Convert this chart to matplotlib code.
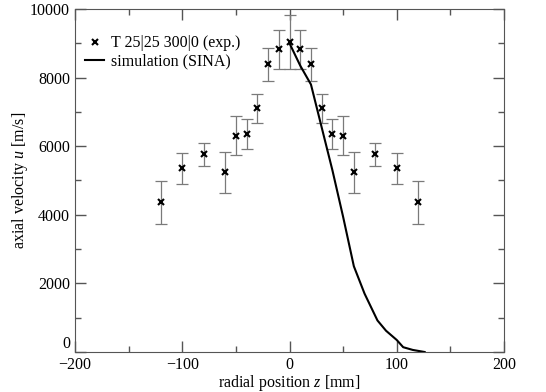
import numpy as np
import matplotlib
matplotlib.use('Agg')
import matplotlib.pyplot as plt
from matplotlib.ticker import MultipleLocator, FuncFormatter

plt.rcParams['font.family'] = 'Liberation Serif'
plt.rcParams['mathtext.fontset'] = 'custom'
plt.rcParams['mathtext.rm'] = 'Liberation Serif'
plt.rcParams['mathtext.it'] = 'Liberation Serif:italic'

# experimental data (symmetric radial profile)
z_exp = [-120, -100, -80, -60, -50, -40, -30, -20, -10, 0,
         10, 20, 30, 40, 50, 60, 80, 100, 120]
u_exp = [4360, 5350, 5770, 5240, 6300, 6360, 7100, 8385, 8820, 9040,
         8820, 8385, 7100, 6360, 6300, 5240, 5770, 5350, 4360]
u_err = [630, 440, 335, 590, 570, 440, 410, 490, 560, 790,
         560, 490, 410, 440, 570, 590, 335, 440, 630]

# simulation (SINA)
z_sim = [0, 10, 20, 30, 40, 50, 60, 70, 82, 90, 100, 106, 115, 126]
u_sim = [9000, 8350, 7800, 6550, 5300, 3940, 2500, 1700, 920, 620, 350, 140, 60, 0]

fig = plt.figure(figsize=(5.46, 3.92), dpi=100)
ax = fig.add_axes([75 / 546, 1 - 352 / 392, 429 / 546, 343 / 392])

ax.errorbar(z_exp, u_exp, yerr=u_err, fmt='none', ecolor='#7a7a7a',
            elinewidth=0.9, capsize=4, capthick=0.9, zorder=2)
ax.plot(z_exp, u_exp, 'x', color='black', markersize=4, markeredgewidth=1.5,
        label='T 25|25 300|0 (exp.)', zorder=3)
ax.plot(z_sim, u_sim, '-', color='black', linewidth=1.5,
        label='simulation (SINA)', zorder=4)

ax.set_xlim(-200, 200)
ax.set_ylim(0, 10000)
ax.xaxis.set_major_locator(MultipleLocator(100))
ax.xaxis.set_minor_locator(MultipleLocator(50))
ax.yaxis.set_major_locator(MultipleLocator(2000))
ax.yaxis.set_minor_locator(MultipleLocator(1000))
# the "0" on the y axis is drawn separately, lifted above the x tick labels
ax.yaxis.set_major_formatter(FuncFormatter(lambda v, p: '' if v == 0 else '%d' % v))
ax.annotate('0', xy=(0, 0), xycoords=('axes fraction', 'data'),
            xytext=(-3.5, 0), textcoords='offset points',
            ha='right', va='bottom', fontsize=11.5)
ax.tick_params(which='both', direction='in', top=True, right=True,
               color='#555555', labelsize=11.5)
ax.tick_params(which='major', length=8, width=1)
ax.tick_params(which='minor', length=4, width=1)
for s in ax.spines.values():
    s.set_color('#555555')

ax.set_xlabel('radial position $\\mathit{z}$ [mm]', fontsize=11.5, labelpad=0)
ax.set_ylabel('axial velocity $\\mathit{u}$ [m/s]', fontsize=11.5, labelpad=0)

ax.legend(loc='upper left', frameon=False, fontsize=11.5, handlelength=1.2,
          handletextpad=0.4, borderaxespad=0.5, labelspacing=0.15,
          bbox_to_anchor=(-0.01, 0.965))

fig.savefig('out.png', dpi=100)
